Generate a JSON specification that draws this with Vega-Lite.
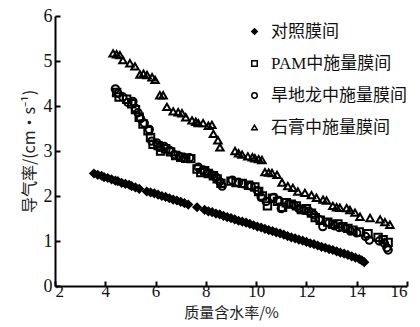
{
  "$schema": "https://vega.github.io/schema/vega-lite/v6.json",
  "width": 352,
  "height": 270,
  "autosize": "none",
  "padding": {"left": 55, "top": 16, "right": 13, "bottom": 41},
  "background": "white",
  "config": {
    "font": "Liberation Serif, Noto Sans CJK SC",
    "view": {"stroke": null}
  },
  "datasets": {
    "d": [
      {"s":"对照膜间","x":3.55,"y":2.50},{"s":"对照膜间","x":3.7,"y":2.47},{"s":"对照膜间","x":3.85,"y":2.45},{"s":"对照膜间","x":3.95,"y":2.42},{"s":"对照膜间","x":4.1,"y":2.40},{"s":"对照膜间","x":4.25,"y":2.37},{"s":"对照膜间","x":4.4,"y":2.34},{"s":"对照膜间","x":4.5,"y":2.33},{"s":"对照膜间","x":4.65,"y":2.29},{"s":"对照膜间","x":4.8,"y":2.27},{"s":"对照膜间","x":4.95,"y":2.25},{"s":"对照膜间","x":5.05,"y":2.22},{"s":"对照膜间","x":5.2,"y":2.19},{"s":"对照膜间","x":5.35,"y":2.16},
      {"s":"对照膜间","x":5.65,"y":2.10},{"s":"对照膜间","x":5.8,"y":2.08},{"s":"对照膜间","x":5.95,"y":2.06},{"s":"对照膜间","x":6.1,"y":2.03},{"s":"对照膜间","x":6.25,"y":2.00},{"s":"对照膜间","x":6.4,"y":1.98},{"s":"对照膜间","x":6.55,"y":1.95},{"s":"对照膜间","x":6.7,"y":1.92},{"s":"对照膜间","x":6.85,"y":1.90},{"s":"对照膜间","x":7.0,"y":1.87},{"s":"对照膜间","x":7.15,"y":1.84},{"s":"对照膜间","x":7.3,"y":1.81},
      {"s":"对照膜间","x":7.65,"y":1.75},
      {"s":"对照膜间","x":7.95,"y":1.69},{"s":"对照膜间","x":8.1,"y":1.66},{"s":"对照膜间","x":8.25,"y":1.64},{"s":"对照膜间","x":8.4,"y":1.61},{"s":"对照膜间","x":8.55,"y":1.59},{"s":"对照膜间","x":8.7,"y":1.56},{"s":"对照膜间","x":8.85,"y":1.53},{"s":"对照膜间","x":9.0,"y":1.51},{"s":"对照膜间","x":9.15,"y":1.48},{"s":"对照膜间","x":9.3,"y":1.45},{"s":"对照膜间","x":9.45,"y":1.43},{"s":"对照膜间","x":9.6,"y":1.41},{"s":"对照膜间","x":9.75,"y":1.38},{"s":"对照膜间","x":9.9,"y":1.35},{"s":"对照膜间","x":10.05,"y":1.32},{"s":"对照膜间","x":10.2,"y":1.30},{"s":"对照膜间","x":10.35,"y":1.27},{"s":"对照膜间","x":10.5,"y":1.24},{"s":"对照膜间","x":10.65,"y":1.22},{"s":"对照膜间","x":10.8,"y":1.19},{"s":"对照膜间","x":10.95,"y":1.17},{"s":"对照膜间","x":11.1,"y":1.14},{"s":"对照膜间","x":11.25,"y":1.11},{"s":"对照膜间","x":11.4,"y":1.08},{"s":"对照膜间","x":11.55,"y":1.06},{"s":"对照膜间","x":11.7,"y":1.03},{"s":"对照膜间","x":11.85,"y":1.01},{"s":"对照膜间","x":12.0,"y":0.98},{"s":"对照膜间","x":12.15,"y":0.95},{"s":"对照膜间","x":12.3,"y":0.93},{"s":"对照膜间","x":12.45,"y":0.90},{"s":"对照膜间","x":12.6,"y":0.87},{"s":"对照膜间","x":12.75,"y":0.85},{"s":"对照膜间","x":12.9,"y":0.82},{"s":"对照膜间","x":13.05,"y":0.80},{"s":"对照膜间","x":13.2,"y":0.77},{"s":"对照膜间","x":13.35,"y":0.74},{"s":"对照膜间","x":13.5,"y":0.72},{"s":"对照膜间","x":13.65,"y":0.69},{"s":"对照膜间","x":13.8,"y":0.66},{"s":"对照膜间","x":13.95,"y":0.63},{"s":"对照膜间","x":14.1,"y":0.60},{"s":"对照膜间","x":14.2,"y":0.57},{"s":"对照膜间","x":14.3,"y":0.53},

      {"s":"PAM中施量膜间","x":4.45,"y":4.30},{"s":"PAM中施量膜间","x":4.55,"y":4.20},{"s":"PAM中施量膜间","x":4.85,"y":4.15},{"s":"PAM中施量膜间","x":5.05,"y":4.05},{"s":"PAM中施量膜间","x":5.2,"y":3.92},{"s":"PAM中施量膜间","x":5.35,"y":3.75},{"s":"PAM中施量膜间","x":5.5,"y":3.60},{"s":"PAM中施量膜间","x":5.7,"y":3.45},{"s":"PAM中施量膜间","x":5.8,"y":3.30},{"s":"PAM中施量膜间","x":5.9,"y":3.15},{"s":"PAM中施量膜间","x":6.1,"y":3.12},{"s":"PAM中施量膜间","x":6.2,"y":3.00},{"s":"PAM中施量膜间","x":6.4,"y":3.05},{"s":"PAM中施量膜间","x":6.6,"y":2.98},{"s":"PAM中施量膜间","x":6.8,"y":2.90},{"s":"PAM中施量膜间","x":7.0,"y":2.86},{"s":"PAM中施量膜间","x":7.2,"y":2.84},{"s":"PAM中施量膜间","x":7.4,"y":2.83},{"s":"PAM中施量膜间","x":7.65,"y":2.60},{"s":"PAM中施量膜间","x":7.8,"y":2.52},{"s":"PAM中施量膜间","x":7.95,"y":2.56},{"s":"PAM中施量膜间","x":8.1,"y":2.50},{"s":"PAM中施量膜间","x":8.3,"y":2.45},{"s":"PAM中施量膜间","x":8.45,"y":2.38},{"s":"PAM中施量膜间","x":8.6,"y":2.28},{"s":"PAM中施量膜间","x":9.0,"y":2.33},{"s":"PAM中施量膜间","x":9.2,"y":2.30},{"s":"PAM中施量膜间","x":9.45,"y":2.28},{"s":"PAM中施量膜间","x":9.7,"y":2.24},{"s":"PAM中施量膜间","x":9.95,"y":2.20},{"s":"PAM中施量膜间","x":10.1,"y":2.10},{"s":"PAM中施量膜间","x":10.25,"y":2.00},{"s":"PAM中施量膜间","x":10.45,"y":1.78},{"s":"PAM中施量膜间","x":10.65,"y":1.95},{"s":"PAM中施量膜间","x":10.85,"y":1.88},{"s":"PAM中施量膜间","x":11.05,"y":1.75},{"s":"PAM中施量膜间","x":11.2,"y":1.85},{"s":"PAM中施量膜间","x":11.4,"y":1.82},{"s":"PAM中施量膜间","x":11.6,"y":1.78},{"s":"PAM中施量膜间","x":11.8,"y":1.70},{"s":"PAM中施量膜间","x":12.0,"y":1.72},{"s":"PAM中施量膜间","x":12.2,"y":1.62},{"s":"PAM中施量膜间","x":12.35,"y":1.52},{"s":"PAM中施量膜间","x":12.55,"y":1.46},{"s":"PAM中施量膜间","x":12.85,"y":1.42},{"s":"PAM中施量膜间","x":13.05,"y":1.37},{"s":"PAM中施量膜间","x":13.25,"y":1.38},{"s":"PAM中施量膜间","x":13.45,"y":1.32},{"s":"PAM中施量膜间","x":13.65,"y":1.28},{"s":"PAM中施量膜间","x":13.85,"y":1.24},{"s":"PAM中施量膜间","x":14.1,"y":1.20},{"s":"PAM中施量膜间","x":14.45,"y":1.16},{"s":"PAM中施量膜间","x":14.85,"y":1.08},{"s":"PAM中施量膜间","x":15.05,"y":1.03},{"s":"PAM中施量膜间","x":15.25,"y":0.97},

      {"s":"旱地龙中施量膜间","x":4.4,"y":4.38},{"s":"旱地龙中施量膜间","x":4.5,"y":4.28},{"s":"旱地龙中施量膜间","x":4.7,"y":4.20},{"s":"旱地龙中施量膜间","x":4.9,"y":4.08},{"s":"旱地龙中施量膜间","x":5.1,"y":4.10},{"s":"旱地龙中施量膜间","x":5.2,"y":3.95},{"s":"旱地龙中施量膜间","x":5.3,"y":3.85},{"s":"旱地龙中施量膜间","x":5.4,"y":3.72},{"s":"旱地龙中施量膜间","x":5.55,"y":3.62},{"s":"旱地龙中施量膜间","x":5.75,"y":3.48},{"s":"旱地龙中施量膜间","x":5.85,"y":3.22},{"s":"旱地龙中施量膜间","x":6.05,"y":3.18},{"s":"旱地龙中施量膜间","x":6.15,"y":3.08},{"s":"旱地龙中施量膜间","x":6.35,"y":3.10},{"s":"旱地龙中施量膜间","x":6.55,"y":3.02},{"s":"旱地龙中施量膜间","x":6.75,"y":2.92},{"s":"旱地龙中施量膜间","x":6.95,"y":2.88},{"s":"旱地龙中施量膜间","x":7.15,"y":2.85},{"s":"旱地龙中施量膜间","x":7.35,"y":2.85},{"s":"旱地龙中施量膜间","x":7.7,"y":2.64},{"s":"旱地龙中施量膜间","x":7.9,"y":2.58},{"s":"旱地龙中施量膜间","x":8.05,"y":2.52},{"s":"旱地龙中施量膜间","x":8.25,"y":2.47},{"s":"旱地龙中施量膜间","x":8.4,"y":2.42},{"s":"旱地龙中施量膜间","x":8.55,"y":2.32},{"s":"旱地龙中施量膜间","x":8.65,"y":2.22},{"s":"旱地龙中施量膜间","x":9.05,"y":2.35},{"s":"旱地龙中施量膜间","x":9.3,"y":2.30},{"s":"旱地龙中施量膜间","x":9.5,"y":2.27},{"s":"旱地龙中施量膜间","x":9.8,"y":2.22},{"s":"旱地龙中施量膜间","x":10.05,"y":2.12},{"s":"旱地龙中施量膜间","x":10.2,"y":1.97},{"s":"旱地龙中施量膜间","x":10.4,"y":1.88},{"s":"旱地龙中施量膜间","x":10.7,"y":1.97},{"s":"旱地龙中施量膜间","x":10.9,"y":1.90},{"s":"旱地龙中施量膜间","x":11.0,"y":1.72},{"s":"旱地龙中施量膜间","x":11.3,"y":1.83},{"s":"旱地龙中施量膜间","x":11.5,"y":1.80},{"s":"旱地龙中施量膜间","x":11.7,"y":1.72},{"s":"旱地龙中施量膜间","x":11.9,"y":1.68},{"s":"旱地龙中施量膜间","x":12.1,"y":1.66},{"s":"旱地龙中施量膜间","x":12.3,"y":1.58},{"s":"旱地龙中施量膜间","x":12.5,"y":1.48},{"s":"旱地龙中施量膜间","x":12.65,"y":1.32},{"s":"旱地龙中施量膜间","x":12.9,"y":1.40},{"s":"旱地龙中施量膜间","x":13.1,"y":1.34},{"s":"旱地龙中施量膜间","x":13.3,"y":1.30},{"s":"旱地龙中施量膜间","x":13.55,"y":1.28},{"s":"旱地龙中施量膜间","x":13.75,"y":1.22},{"s":"旱地龙中施量膜间","x":14.0,"y":1.18},{"s":"旱地龙中施量膜间","x":14.35,"y":1.10},{"s":"旱地龙中施量膜间","x":14.5,"y":1.02},{"s":"旱地龙中施量膜间","x":14.9,"y":1.00},{"s":"旱地龙中施量膜间","x":15.1,"y":0.95},{"s":"旱地龙中施量膜间","x":15.2,"y":0.85},{"s":"旱地龙中施量膜间","x":15.25,"y":0.80},

      {"s":"石膏中施量膜间","x":4.31,"y":5.17},{"s":"石膏中施量膜间","x":4.45,"y":5.15},{"s":"石膏中施量膜间","x":4.58,"y":5.13},{"s":"石膏中施量膜间","x":4.7,"y":5.02},{"s":"石膏中施量膜间","x":4.98,"y":4.95},{"s":"石膏中施量膜间","x":5.18,"y":4.88},{"s":"石膏中施量膜间","x":5.38,"y":4.70},{"s":"石膏中施量膜间","x":5.52,"y":4.72},{"s":"石膏中施量膜间","x":5.66,"y":4.69},{"s":"石膏中施量膜间","x":5.86,"y":4.64},{"s":"石膏中施量膜间","x":5.98,"y":4.58},{"s":"石膏中施量膜间","x":6.17,"y":4.24},{"s":"石膏中施量膜间","x":6.3,"y":4.24},{"s":"石膏中施量膜间","x":6.45,"y":3.98},{"s":"石膏中施量膜间","x":6.7,"y":3.88},{"s":"石膏中施量膜间","x":6.9,"y":3.86},{"s":"石膏中施量膜间","x":7.05,"y":3.84},{"s":"石膏中施量膜间","x":7.2,"y":3.75},{"s":"石膏中施量膜间","x":7.45,"y":3.68},{"s":"石膏中施量膜间","x":7.6,"y":3.65},{"s":"石膏中施量膜间","x":7.7,"y":3.62},{"s":"石膏中施量膜间","x":7.89,"y":3.62},{"s":"石膏中施量膜间","x":8.1,"y":3.56},{"s":"石膏中施量膜间","x":8.24,"y":3.58},{"s":"石膏中施量膜间","x":8.3,"y":3.38},{"s":"石膏中施量膜间","x":8.48,"y":3.24},{"s":"石膏中施量膜间","x":8.56,"y":3.08},{"s":"石膏中施量膜间","x":9.16,"y":3.00},{"s":"石膏中施量膜间","x":9.3,"y":2.95},{"s":"石膏中施量膜间","x":9.44,"y":2.92},{"s":"石膏中施量膜间","x":9.67,"y":2.88},{"s":"石膏中施量膜间","x":9.85,"y":2.86},{"s":"石膏中施量膜间","x":9.95,"y":2.84},{"s":"石膏中施量膜间","x":10.1,"y":2.82},{"s":"石膏中施量膜间","x":10.23,"y":2.80},{"s":"石膏中施量膜间","x":10.35,"y":2.53},{"s":"石膏中施量膜间","x":10.5,"y":2.52},{"s":"石膏中施量膜间","x":10.63,"y":2.51},{"s":"石膏中施量膜间","x":10.83,"y":2.47},{"s":"石膏中施量膜间","x":11.03,"y":2.30},{"s":"石膏中施量膜间","x":11.26,"y":2.22},{"s":"石膏中施量膜间","x":11.46,"y":2.18},{"s":"石膏中施量膜间","x":11.66,"y":2.10},{"s":"石膏中施量膜间","x":11.94,"y":2.07},{"s":"石膏中施量膜间","x":12.2,"y":2.02},{"s":"石膏中施量膜间","x":12.4,"y":1.96},{"s":"石膏中施量膜间","x":12.66,"y":1.92},{"s":"石膏中施量膜间","x":12.8,"y":1.90},{"s":"石膏中施量膜间","x":13.05,"y":1.78},{"s":"石膏中施量膜间","x":13.2,"y":1.75},{"s":"石膏中施量膜间","x":13.33,"y":1.74},{"s":"石膏中施量膜间","x":13.6,"y":1.73},{"s":"石膏中施量膜间","x":13.73,"y":1.69},{"s":"石膏中施量膜间","x":13.93,"y":1.63},{"s":"石膏中施量膜间","x":14.13,"y":1.54},{"s":"石膏中施量膜间","x":14.53,"y":1.51},{"s":"石膏中施量膜间","x":14.93,"y":1.48},{"s":"石膏中施量膜间","x":15.12,"y":1.42},{"s":"石膏中施量膜间","x":15.32,"y":1.36}
    ]
  },
  "data": {"name": "d"},
  "mark": {"type": "point", "strokeWidth": 2, "size": 55, "opacity": 1},
  "encoding": {
    "x": {
      "field": "x", "type": "quantitative",
      "scale": {"domain": [2, 16], "nice": false, "zero": false},
      "axis": {
        "values": [2, 4, 6, 8, 10, 12, 14, 16],
        "title": "质量含水率/%",
        "titleFont": "Noto Sans CJK SC", "titleFontSize": 15, "titleFontWeight": "normal", "titleColor": "#222", "titlePadding": 6,
        "labelFont": "Liberation Serif", "labelFontSize": 17, "labelColor": "#111", "labelPadding": 2,
        "grid": false, "domainColor": "#000", "domainWidth": 2, "tickColor": "#000", "tickWidth": 2, "tickSize": -5
      }
    },
    "y": {
      "field": "y", "type": "quantitative",
      "scale": {"domain": [0, 6], "nice": false},
      "axis": {
        "values": [0, 1, 2, 3, 4, 5, 6],
        "title": "导气率/(cm·s⁻¹)",
        "titleFont": "Noto Sans CJK SC", "titleFontSize": 16, "titleFontWeight": "normal", "titleColor": "#222", "titlePadding": 6,
        "labelFont": "Liberation Serif", "labelFontSize": 18, "labelColor": "#111", "labelPadding": 8,
        "grid": false, "domainColor": "#000", "domainWidth": 2, "tickColor": "#000", "tickWidth": 2, "tickSize": -5
      }
    },
    "shape": {
      "field": "s", "type": "nominal",
      "scale": {
        "domain": ["对照膜间", "PAM中施量膜间", "旱地龙中施量膜间", "石膏中施量膜间"],
        "range": ["diamond", "square", "circle", "triangle-up"]
      },
      "legend": {
        "orient": "none", "legendX": 191, "legendY": 7, "title": null,
        "labelFont": "Liberation Serif, Noto Sans CJK SC", "labelFontSize": 17, "labelColor": "#111",
        "rowPadding": 14, "symbolSize": 30, "labelOffset": 8,
        "encode": {"symbols": {"update": {"stroke": {"value": "#000"}, "strokeWidth": {"value": 2.2}}}}
      }
    },
    "fill": {
      "field": "s", "type": "nominal",
      "scale": {
        "domain": ["对照膜间", "PAM中施量膜间", "旱地龙中施量膜间", "石膏中施量膜间"],
        "range": ["#000", "transparent", "transparent", "transparent"]
      },
      "legend": null
    },
    "stroke": {"value": "#000"}
  }
}
